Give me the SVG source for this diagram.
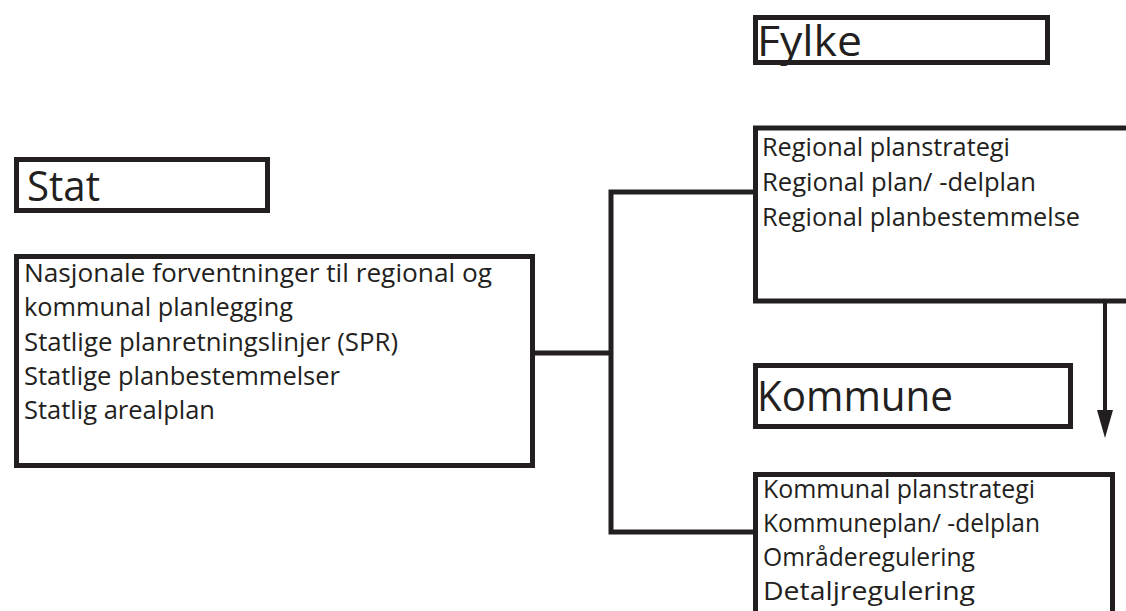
<svg xmlns="http://www.w3.org/2000/svg" width="1126" height="611" viewBox="0 0 1126 611">
<defs>
<style>
.box{fill:#fff;stroke:#231f20;stroke-width:5}
.title{font-family:"Open Sans","Noto Sans",sans-serif;font-size:42px;fill:#231f20}
.body{font-family:"Open Sans","Noto Sans",sans-serif;font-size:26px;fill:#231f20}
.conn{fill:none;stroke:#231f20;stroke-width:5}
</style>
</defs>
<rect width="1126" height="611" fill="#fff"/>
<g id="connectors">
<polyline class="conn" points="534,353 611,353"/>
<polyline class="conn" points="753,192 611,192 611,532 753,532"/>
<line class="conn" x1="1105" y1="303" x2="1105" y2="412" style="stroke-width:4"/>
<path d="M1097,410 L1113,410 L1105,438 Z" fill="#231f20"/>
</g>
<g id="fylke">
<rect class="box" x="755.5" y="17.5" width="292" height="45"/>
<text class="title" x="757" y="56" textLength="105" lengthAdjust="spacingAndGlyphs">Fylke</text>
</g>
<g id="regional">
<rect class="box" x="755.5" y="128" width="380" height="173"/>
<text class="body" x="762" y="156" textLength="248" lengthAdjust="spacingAndGlyphs">Regional planstrategi</text>
<text class="body" x="762" y="191" textLength="274" lengthAdjust="spacingAndGlyphs">Regional plan/ -delplan</text>
<text class="body" x="762" y="226" textLength="318" lengthAdjust="spacingAndGlyphs">Regional planbestemmelse</text>
</g>
<g id="stat">
<rect class="box" x="16.5" y="159.5" width="251" height="51"/>
<text class="title" x="27" y="201" textLength="73" lengthAdjust="spacingAndGlyphs">Stat</text>
</g>
<g id="nasjonal">
<rect class="box" x="16.5" y="256.5" width="516" height="209"/>
<text class="body" x="24" y="282" textLength="468" lengthAdjust="spacingAndGlyphs">Nasjonale forventninger til regional og</text>
<text class="body" x="24" y="316" textLength="269" lengthAdjust="spacingAndGlyphs">kommunal planlegging</text>
<text class="body" x="24" y="351" textLength="374" lengthAdjust="spacingAndGlyphs">Statlige planretningslinjer (SPR)</text>
<text class="body" x="24" y="385" textLength="316" lengthAdjust="spacingAndGlyphs">Statlige planbestemmelser</text>
<text class="body" x="24" y="419" textLength="191" lengthAdjust="spacingAndGlyphs">Statlig arealplan</text>
</g>
<g id="kommune">
<rect class="box" x="755.5" y="365.5" width="315" height="61"/>
<text class="title" x="757" y="411" textLength="196" lengthAdjust="spacingAndGlyphs">Kommune</text>
</g>
<g id="kommunal">
<rect class="box" x="755.5" y="474.5" width="357" height="150"/>
<text class="body" x="763" y="498" textLength="272" lengthAdjust="spacingAndGlyphs">Kommunal planstrategi</text>
<text class="body" x="763" y="532" textLength="277" lengthAdjust="spacingAndGlyphs">Kommuneplan/ -delplan</text>
<text class="body" x="763" y="566" textLength="212" lengthAdjust="spacingAndGlyphs">Områderegulering</text>
<text class="body" x="763" y="600" textLength="212" lengthAdjust="spacingAndGlyphs">Detaljregulering</text>
</g>
</svg>
